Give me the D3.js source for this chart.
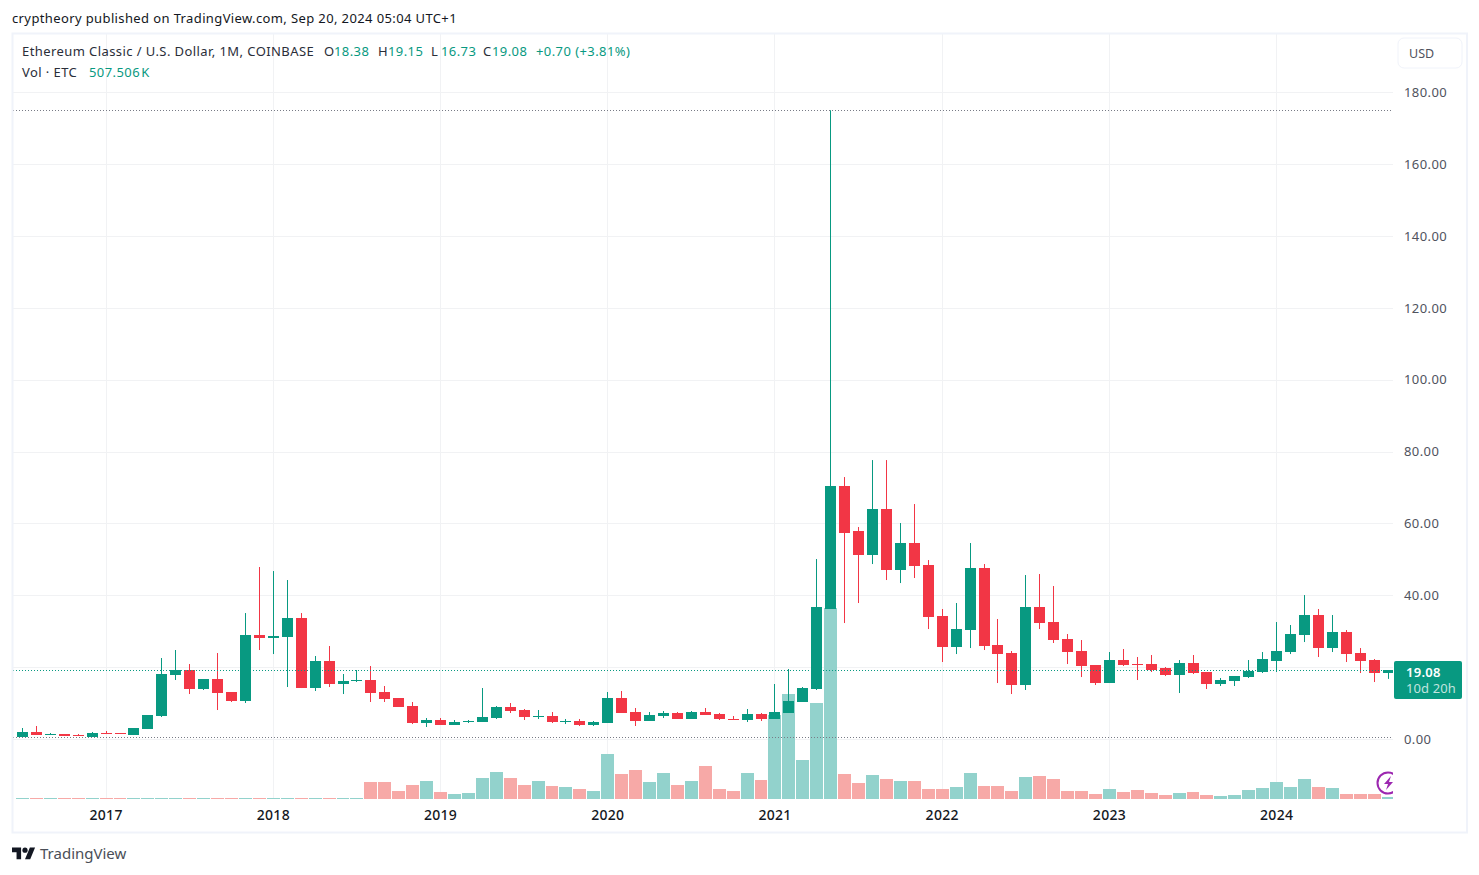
<!DOCTYPE html>
<html>
<head>
<meta charset="utf-8">
<script src="https://cdn.jsdelivr.net/npm/d3@7"></script>
<style>
    html, body { margin: 0; padding: 0; background: #fff; }
    svg { display: block; }
    text { font-family: "Noto Sans", sans-serif; }
</style>
</head>
<body>
<div id="chart"></div>
<script>
// Monthly candles, Jul 2016 to Sep 2024 (99 months).
const opens = [0.56, 1.95, 1.11, 1.39, 1.11, 0.56, 1.67, 1.67, 1.11, 2.78, 6.40, 17.81, 19.20, 13.91, 16.70, 13.08, 10.58, 28.94, 28.11, 28.39, 33.67, 14.19, 21.71, 15.31, 16.14, 16.42, 13.08, 11.41, 9.18, 4.45, 5.29, 3.90, 4.73, 4.73, 5.84, 8.91, 8.07, 6.12, 6.40, 4.73, 5.01, 3.90, 4.45, 11.41, 7.51, 5.01, 6.40, 7.24, 5.57, 7.51, 6.96, 5.57, 5.29, 6.96, 5.57, 7.24, 10.30, 13.91, 36.18, 70.41, 57.88, 51.21, 64.01, 47.03, 54.55, 48.42, 34.23, 25.60, 30.33, 47.59, 26.16, 23.93, 15.03, 36.73, 32.56, 27.83, 24.49, 20.59, 15.58, 21.98, 20.87, 20.87, 19.76, 17.81, 21.15, 18.65, 15.31, 16.14, 17.25, 18.65, 21.71, 24.21, 28.94, 34.51, 25.32, 29.78, 23.93, 21.98, 18.38];
const highs = [3.06, 3.62, 1.67, 1.39, 1.39, 1.95, 2.23, 1.67, 3.06, 6.68, 22.54, 24.77, 20.87, 16.70, 23.93, 13.08, 35.06, 47.87, 46.75, 44.25, 35.06, 23.10, 25.88, 18.09, 19.20, 20.32, 14.75, 11.41, 10.30, 5.84, 5.84, 5.29, 5.29, 14.19, 9.18, 10.02, 8.35, 8.07, 7.51, 5.57, 5.57, 5.01, 13.08, 13.36, 8.63, 7.51, 7.79, 7.51, 7.79, 8.63, 7.24, 6.40, 8.35, 7.24, 15.31, 19.48, 14.47, 50.09, 175.00, 72.91, 59.00, 77.64, 77.64, 60.11, 65.40, 49.81, 36.18, 37.85, 54.55, 48.70, 33.40, 24.49, 45.64, 45.92, 42.58, 29.22, 27.55, 20.59, 24.21, 25.05, 22.82, 23.38, 20.04, 21.98, 23.38, 18.65, 16.98, 17.53, 21.98, 24.21, 32.56, 31.73, 40.07, 36.18, 34.51, 30.33, 25.32, 22.26, 19.15];
const lows = [0.56, 1.11, 1.11, 0.83, 0.83, 0.56, 1.39, 1.39, 1.11, 2.78, 6.12, 16.42, 12.52, 13.64, 8.07, 10.30, 10.02, 24.77, 23.65, 14.47, 14.19, 13.36, 14.47, 12.52, 15.86, 10.30, 10.30, 8.91, 4.17, 3.34, 3.90, 3.90, 4.45, 4.73, 5.57, 7.24, 5.29, 5.57, 4.45, 4.17, 3.62, 3.62, 4.45, 7.24, 3.62, 5.01, 5.84, 5.57, 5.57, 6.68, 5.29, 5.29, 4.73, 5.01, 5.57, 7.24, 10.30, 13.64, 36.18, 32.28, 37.85, 48.70, 44.25, 43.41, 44.81, 30.61, 21.43, 23.65, 25.32, 24.77, 15.58, 12.52, 13.64, 30.61, 26.72, 20.87, 17.25, 15.03, 15.58, 20.32, 16.42, 18.65, 17.53, 12.80, 18.09, 13.91, 14.75, 14.75, 16.98, 18.37, 18.65, 23.65, 26.99, 22.82, 24.21, 21.43, 18.37, 15.86, 16.73];
const closes = [1.95, 1.11, 1.39, 0.83, 0.83, 1.67, 1.39, 1.39, 3.06, 6.68, 18.09, 19.20, 13.91, 16.70, 12.80, 10.58, 28.94, 28.11, 28.66, 33.67, 14.19, 21.71, 15.31, 16.14, 16.42, 12.80, 11.13, 8.91, 4.45, 5.29, 3.90, 4.73, 5.01, 6.12, 8.91, 7.79, 6.12, 6.40, 4.73, 5.01, 3.90, 4.73, 11.41, 7.24, 5.01, 6.68, 7.24, 5.57, 7.51, 6.68, 5.57, 5.29, 6.96, 5.57, 7.51, 10.58, 14.19, 36.73, 70.41, 57.33, 51.21, 64.01, 47.03, 54.55, 48.14, 33.95, 25.60, 30.61, 47.59, 25.88, 23.65, 15.03, 36.73, 32.28, 27.55, 24.21, 20.32, 15.58, 21.98, 20.59, 20.59, 19.20, 17.81, 21.15, 18.37, 15.31, 16.42, 17.53, 18.93, 22.26, 24.49, 29.22, 34.51, 25.32, 29.78, 23.65, 21.71, 18.37, 19.08];
// Volume in millions of ETC.
const volumes = [0.25, 0.25, 0.25, 0.25, 0.25, 0.25, 0.25, 0.25, 0.25, 0.25, 0.25, 0.25, 0.25, 0.25, 0.25, 0.25, 0.25, 0.25, 0.25, 0.25, 0.25, 0.25, 0.25, 0.25, 0.25, 4.25, 4.25, 2.00, 3.50, 4.50, 1.75, 1.25, 1.50, 5.25, 6.75, 5.25, 3.50, 4.50, 3.25, 3.00, 2.50, 2.00, 11.25, 6.25, 7.25, 4.25, 6.50, 3.50, 4.50, 8.25, 2.50, 2.00, 6.50, 4.75, 21.00, 26.25, 9.75, 24.00, 47.75, 6.25, 4.00, 6.00, 5.00, 4.50, 4.50, 2.50, 2.50, 3.00, 6.50, 3.25, 3.25, 2.00, 5.50, 5.75, 5.00, 2.00, 2.00, 1.25, 2.50, 1.75, 2.25, 1.50, 1.00, 1.50, 1.75, 1.00, 0.75, 1.00, 2.25, 2.75, 4.25, 3.00, 5.00, 3.00, 2.75, 1.25, 1.25, 1.25, 0.51];

const priceTicks = [0, 20, 40, 60, 80, 100, 120, 140, 160, 180];
const yearTicks = [2017, 2018, 2019, 2020, 2021, 2022, 2023, 2024];
const lastPrice = 19.08;
const highPrice = 175.00;
const basePrice = 0.47;

const upColor = "#089981";
const downColor = "#f23645";
const upVolColor = "#92d2cc";
const downVolColor = "#f7a9a7";
const gridColor = "#f1f2f4";
const frameColor = "#f0f3fa";
const dotColor = "#787b86";
const labelColor = "#50535e";

const months = d3.utcMonth.range(new Date(Date.UTC(2016, 6, 1)), new Date(Date.UTC(2024, 9, 1)));
const candles = months.map((m, i) => ({
    month: m,
    open: opens[i],
    high: highs[i],
    low: lows[i],
    close: closes[i],
    volume: volumes[i]
}));

// Pane edges.
const paneLeft = 13, paneRight = 1393, paneTop = 34, paneBottom = 799;

const svg = d3.select("#chart")
    .append("svg")
    .attr("width", 1479)
    .attr("height", 875);

svg.append("clipPath")
    .attr("id", "pane")
    .append("rect")
    .attr("x", paneLeft)
    .attr("y", paneTop)
    .attr("width", paneRight - paneLeft)
    .attr("height", paneBottom - paneTop);

// Scales.
const x = d3.scaleBand().domain(months).range([15.53, 1395.1]);
const y = d3.scaleLinear().domain([0, 180]).range([739, 92.3]);
const yVol = d3.scaleLinear().domain([0, 47.75]).range([paneBottom, 608]);
const center = d => x(d) + x.bandwidth() / 2;
const yearMonth = year => months.find(m => m.getUTCFullYear() === year && m.getUTCMonth() === 0);

// Grid.
svg.append("g").selectAll("line").data(priceTicks).enter().append("line")
    .attr("x1", paneLeft).attr("x2", paneRight)
    .attr("y1", d => Math.round(y(d)) + 0.5).attr("y2", d => Math.round(y(d)) + 0.5)
    .attr("stroke", gridColor);
svg.append("g").selectAll("line").data(yearTicks).enter().append("line")
    .attr("x1", d => Math.floor(center(yearMonth(d))) + 0.5).attr("x2", d => Math.floor(center(yearMonth(d))) + 0.5)
    .attr("y1", paneTop).attr("y2", paneBottom)
    .attr("stroke", gridColor);

const pane = svg.append("g").attr("clip-path", "url(#pane)");

// Volume bars, one pixel gap between neighbours.
const volLeft = d => Math.round(center(d.month) - 6.5);
pane.append("g").selectAll("rect").data(candles).enter().append("rect")
    .attr("x", volLeft)
    .attr("width", d => Math.round(center(d.month) + x.step() - 6.5) - volLeft(d) - 1)
    .attr("y", d => yVol(d.volume))
    .attr("height", d => paneBottom - yVol(d.volume))
    .attr("fill", d => d.close >= d.open ? upVolColor : downVolColor);

// Wicks.
pane.append("g").selectAll("rect").data(candles).enter().append("rect")
    .attr("x", d => Math.round(center(d.month) - 5.5) + 5)
    .attr("width", 1)
    .attr("y", d => y(d.high))
    .attr("height", d => y(d.low) - y(d.high))
    .attr("fill", d => d.close >= d.open ? upColor : downColor);

// Bodies.
pane.append("g").selectAll("rect").data(candles).enter().append("rect")
    .attr("x", d => Math.round(center(d.month) - 5.5))
    .attr("width", 11)
    .attr("y", d => Math.round(y(Math.max(d.open, d.close))))
    .attr("height", d => Math.max(1, Math.round(y(Math.min(d.open, d.close))) - Math.round(y(Math.max(d.open, d.close)))))
    .attr("fill", d => d.close >= d.open ? upColor : downColor);

// Dotted price lines.
[[lastPrice, upColor], [highPrice, dotColor], [basePrice, dotColor]].forEach(([price, color]) => {
    pane.append("line")
        .attr("x1", paneLeft).attr("x2", paneRight)
        .attr("y1", Math.round(y(price)) + 0.5).attr("y2", Math.round(y(price)) + 0.5)
        .attr("stroke", color)
        .attr("stroke-dasharray", "1,2");
});

// Purple badge in the bottom right corner.
const badge = pane.append("g").attr("transform", "translate(1388,783)");
badge.append("circle").attr("r", 10.5).attr("fill", "#fff").attr("stroke", "#9c27b0").attr("stroke-width", 2);
badge.append("path").attr("d", "M3,-7 L-4,1 L0,1 L-2,7 L5,-1 L1,-1 Z").attr("fill", "#9c27b0");

// Price axis. The 20.00 label sits under the last price box, so it is left out.
const priceAxis = svg.append("g")
    .attr("transform", `translate(${paneRight},0)`)
    .call(d3.axisRight(y)
        .tickValues(priceTicks.filter(d => d !== 20))
        .tickFormat(d3.format(".2f"))
        .tickSize(0)
        .tickPadding(11));
priceAxis.select(".domain").remove();
priceAxis.selectAll("text")
    .attr("fill", labelColor)
    .style("font-family", '"Noto Sans", sans-serif')
    .style("font-size", "13px")
    .style("letter-spacing", "0.4px");

// Time axis.
const timeAxis = svg.append("g")
    .attr("transform", `translate(0,${paneBottom + 6})`)
    .call(d3.axisBottom(x)
        .tickValues(yearTicks.map(yearMonth))
        .tickFormat(d3.utcFormat("%Y"))
        .tickSize(0)
        .tickPadding(5));
timeAxis.select(".domain").remove();
timeAxis.selectAll("text")
    .attr("fill", "#131722")
    .style("font-family", '"Noto Sans", sans-serif')
    .style("font-size", "14px")
    .style("font-weight", 500)
    .style("letter-spacing", "0.3px");

// Frame around the chart.
svg.append("rect")
    .attr("x", 12.5).attr("y", 33.5)
    .attr("width", 1454.5).attr("height", 799)
    .attr("fill", "none")
    .attr("stroke", frameColor)
    .attr("stroke-width", 2);

// Currency button.
svg.append("rect")
    .attr("x", 1398).attr("y", 38)
    .attr("width", 64).attr("height", 30)
    .attr("rx", 6)
    .attr("fill", "#fff")
    .attr("stroke", frameColor);
svg.append("text").attr("x", 1409).attr("y", 58)
    .attr("fill", labelColor).style("font-size", "12.5px").text("USD");

// Last price label.
const lastLabel = svg.append("g");
lastLabel.append("rect")
    .attr("x", 1394).attr("y", 661)
    .attr("width", 68).attr("height", 38)
    .attr("rx", 2)
    .attr("fill", upColor);
lastLabel.append("text").attr("x", 1406).attr("y", 677)
    .attr("fill", "#fff").style("font-size", "13px").style("font-weight", 600).style("letter-spacing", "0.3px").text("19.08");
lastLabel.append("text").attr("x", 1406).attr("y", 693)
    .attr("fill", "#fff").attr("fill-opacity", 0.75).style("font-size", "13px").style("letter-spacing", "0.1px").text("10d 20h");

// Header and legend text.
const darkText = "#131722";
const legendText = "#2a2e39";
const legendItems = [
    ["Ethereum Classic / U.S. Dollar, 1M, COINBASE", 22, 56, legendText],
    ["O", 324, 56, legendText], ["18.38", 334, 56, upColor],
    ["H", 378, 56, legendText], ["19.15", 388, 56, upColor],
    ["L", 431, 56, legendText], ["16.73", 441, 56, upColor],
    ["C", 483, 56, legendText], ["19.08", 492, 56, upColor],
    ["+0.70 (+3.81%)", 536, 56, upColor],
    ["Vol · ETC", 22, 77, legendText],
    ["507.506 K", 89, 77, upColor]
];
svg.append("g").selectAll("text").data(legendItems).enter().append("text")
    .attr("x", d => d[1])
    .attr("y", d => d[2])
    .attr("fill", d => d[3])
    .style("font-size", "13px")
    .style("letter-spacing", "0.42px")
    .style("word-spacing", d => d[0].startsWith("507") ? "-2.5px" : null)
    .text(d => d[0]);

svg.append("text").attr("x", 12).attr("y", 23)
    .attr("fill", darkText).style("font-size", "13px").style("letter-spacing", "0.38px")
    .text("cryptheory published on TradingView.com, Sep 20, 2024 05:04 UTC+1");

// TradingView logo.
const logo = svg.append("g").attr("transform", "translate(12,845) scale(0.65)").attr("fill", darkText);
logo.append("path").attr("d", "M14 22H7V11H0V4h14v18zM28 22h-8l7.5-18h8L28 22z");
logo.append("circle").attr("cx", 20).attr("cy", 8).attr("r", 4);
svg.append("text").attr("x", 40).attr("y", 859)
    .attr("fill", "#4a4e57").style("font-size", "15px")
    .text("TradingView");
</script>
</body>
</html>
